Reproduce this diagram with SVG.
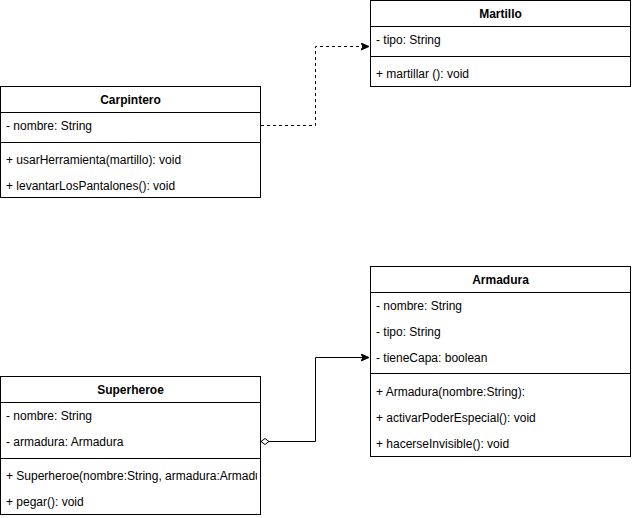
<svg xmlns="http://www.w3.org/2000/svg" width="632" height="518" viewBox="0 0 632 518">
<style>
.box{fill:#fff;stroke:#000;stroke-width:1}
.ln{stroke:#000;stroke-width:1;fill:none}
.t{font-family:"Liberation Sans",Arial,sans-serif;font-size:12px;fill:#000}
.h{font-weight:bold;text-anchor:middle}
</style>
<defs>
<marker id="arr" markerWidth="10" markerHeight="10" refX="8" refY="4" orient="auto" markerUnits="userSpaceOnUse">
<path d="M0,0.5 L8,4 L0,7.5 L2,4 Z" fill="#000" stroke="#000" stroke-width="1"/>
</marker>
<marker id="dia" markerWidth="12" markerHeight="10" refX="0" refY="4" orient="auto" markerUnits="userSpaceOnUse">
<path d="M0,4 L4,1 L8,4 L4,7 Z" fill="#fff" stroke="#000" stroke-width="1"/>
</marker>
<clipPath id="clipS"><rect x="0" y="376" width="257" height="140"/></clipPath>
</defs>
<rect width="632" height="518" fill="#fff"/>
<g id="connectors">
<path class="ln" d="M261,125.5 H315.5 V46.5 H369" stroke-dasharray="3,3" marker-end="url(#arr)"/>
<path class="ln" d="M261,441.5 H315.5 V357.5 H369" marker-start="url(#dia)" marker-end="url(#arr)"/>
</g>
<g id="martillo">
<rect class="box" x="370.5" y="0.5" width="260" height="86"/>
<line class="ln" x1="370.5" y1="26.5" x2="630.5" y2="26.5"/>
<line class="ln" x1="370.5" y1="56.5" x2="630.5" y2="56.5"/>
<text class="t h" x="500.5" y="18">Martillo</text>
<text class="t" x="376" y="44">- tipo: String</text>
<text class="t" x="376" y="78">+ martillar (): void</text>
</g>
<g id="carpintero">
<rect class="box" x="0.5" y="86.5" width="260" height="111"/>
<line class="ln" x1="0.5" y1="112.5" x2="260.5" y2="112.5"/>
<line class="ln" x1="0.5" y1="142.5" x2="260.5" y2="142.5"/>
<text class="t h" x="130.5" y="104">Carpintero</text>
<text class="t" x="6" y="130">- nombre: String</text>
<text class="t" x="6" y="164">+ usarHerramienta(martillo): void</text>
<text class="t" x="6" y="190">+ levantarLosPantalones(): void</text>
</g>
<g id="armadura">
<rect class="box" x="370.5" y="266.5" width="260" height="190"/>
<line class="ln" x1="370.5" y1="292.5" x2="630.5" y2="292.5"/>
<line class="ln" x1="370.5" y1="373.5" x2="630.5" y2="373.5"/>
<text class="t h" x="500.5" y="284">Armadura</text>
<text class="t" x="376" y="310">- nombre: String</text>
<text class="t" x="376" y="336">- tipo: String</text>
<text class="t" x="376" y="362">- tieneCapa: boolean</text>
<text class="t" x="376" y="396">+ Armadura(nombre:String):</text>
<text class="t" x="376" y="422">+ activarPoderEspecial(): void</text>
<text class="t" x="376" y="448">+ hacerseInvisible(): void</text>
</g>
<g id="superheroe">
<rect class="box" x="0.5" y="376.5" width="260" height="138"/>
<line class="ln" x1="0.5" y1="402.5" x2="260.5" y2="402.5"/>
<line class="ln" x1="0.5" y1="458.5" x2="260.5" y2="458.5"/>
<text class="t h" x="130.5" y="394">Superheroe</text>
<text class="t" x="6" y="420">- nombre: String</text>
<text class="t" x="6" y="446">- armadura: Armadura</text>
<g clip-path="url(#clipS)">
<text class="t" x="6" y="480">+ Superheroe(nombre:String, armadura:Armadura)</text>
</g>
<text class="t" x="6" y="506">+ pegar(): void</text>
</g>
</svg>
